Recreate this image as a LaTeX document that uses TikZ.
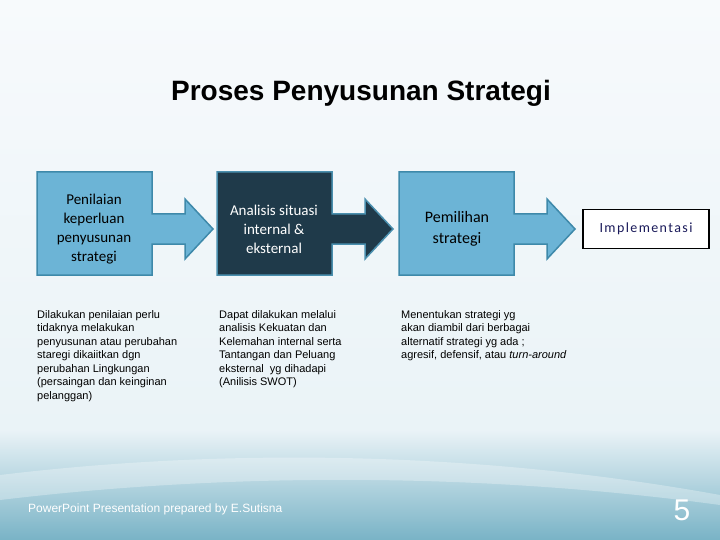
\documentclass[tikz,border=0pt]{standalone}
\usepackage{fontspec}
\setmainfont{Liberation Sans}
\newfontfamily\calibri{Carlito}
\usetikzlibrary{positioning}

\definecolor{birumuda}{HTML}{6CB4D6}
\definecolor{birutepi}{HTML}{3E89AA}
\definecolor{birugelap}{HTML}{1F3A4A}
\definecolor{tepigelap}{HTML}{4A8FAE}
\definecolor{latatas}{HTML}{F7FAFC}
\definecolor{lattengah}{HTML}{EAF3F7}
\definecolor{latbawah}{HTML}{79B3C6}
\definecolor{navy}{HTML}{1A1A5A}

\tikzset{
  judul/.style={font=\fontsize{28}{32}\selectfont\bfseries},
  isikotak/.style={font=\calibri\fontsize{15}{19}\selectfont,align=center},
  ket/.style={font=\fontsize{11}{13.5}\selectfont,align=left,anchor=north west,inner sep=0pt},
  kaki/.style={font=\fontsize{12}{14}\selectfont,text=white}
}

% kotak dengan panah ke kanan, #1 = x kiri
\newcommand{\kotakpanah}[3]{%
  \draw[#3,line width=1.5pt,fill=#2] (#1,172) -- ++(115,0) -- ++(0,42) -- ++(33,0)
    -- ++(0,-15) -- ++(28,30) -- ++(-28,30) -- ++(0,-15) -- ++(-33,0) -- ++(0,31)
    -- ++(-115,0) -- cycle;}

\begin{document}
\begin{tikzpicture}[x=1pt,y=-1pt]
\useasboundingbox (0,0) rectangle (720,540);
% latar
\shade[top color=latatas,bottom color=lattengah] (0,0) rectangle (720,430);
\shade[top color=lattengah,bottom color=latbawah] (0,430) rectangle (720,540);
\fill[white,opacity=0.3] (0,475) .. controls (250,445) and (500,455) .. (720,495)
  -- (720,505) .. controls (500,475) and (250,470) .. (0,500) -- cycle;

\path (361,93) node(judul) [judul]{Proses Penyusunan Strategi};

\kotakpanah{37}{birumuda}{birutepi}
\kotakpanah{217}{birugelap}{tepigelap}
\kotakpanah{399}{birumuda}{birutepi}

\path (94,229) node(nilai) [isikotak]{Penilaian\\keperluan\\penyusunan\\strategi};
\path (274,229) node(analisis) [isikotak,text=white]{Analisis situasi\\internal \&\\eksternal};
\path (457,229) node(pilih) [isikotak,font=\calibri\fontsize{16}{21}\selectfont]{Pemilihan\\strategi};
\path (646,229) node(impl) [draw=black,line width=1.5pt,fill=white,minimum width=126pt,minimum height=39pt,
  font=\calibri\fontsize{14}{16}\selectfont\addfontfeature{LetterSpace=10},text=navy]{Implementasi};

\path (37,310) node(ket1) [ket]{Dilakukan penilaian perlu\\
tidaknya melakukan\\
penyusunan atau perubahan\\
staregi dikaiitkan dgn\\
perubahan Lingkungan\\
(persaingan dan keinginan\\
pelanggan)};
\path (219,310) node(ket2) [ket]{Dapat dilakukan melalui\\
analisis Kekuatan dan\\
Kelemahan internal serta\\
Tantangan dan Peluang\\
eksternal\ \ yg dihadapi\\
(Anilisis SWOT)};
\path (401,310) node(ket3) [ket]{Menentukan strategi yg\\
akan diambil dari berbagai\\
alternatif strategi yg ada ;\\
agresif, defensif, atau \textit{turn-around}};

\path (28,509) node(kaki) [kaki,anchor=west,inner sep=0pt]{PowerPoint Presentation prepared by E.Sutisna};
\path (682,510) node(hal) [kaki,font=\fontsize{30}{32}\selectfont]{5};
\end{tikzpicture}
\end{document}
